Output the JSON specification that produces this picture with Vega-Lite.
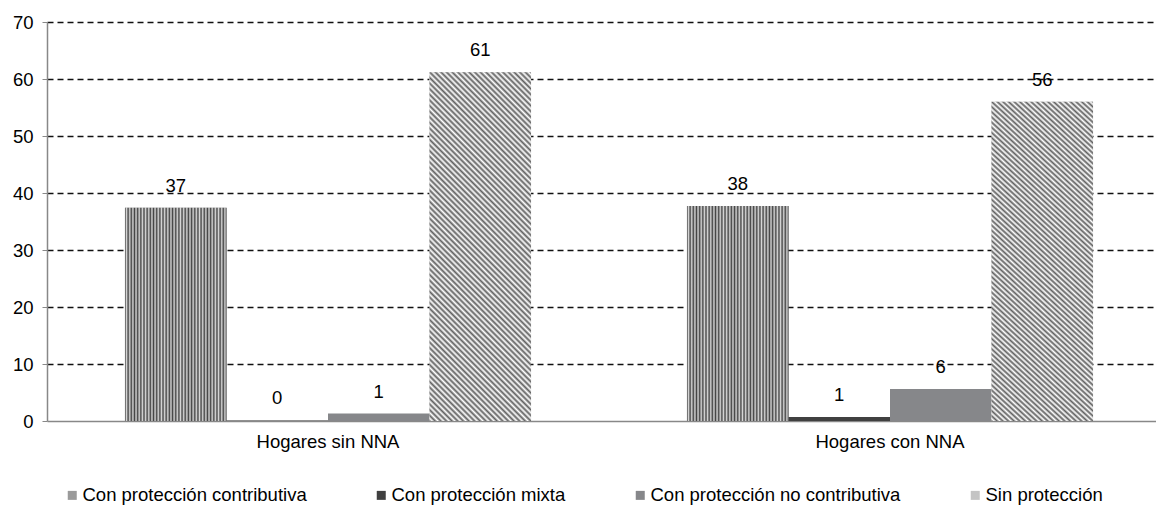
{
  "$schema": "https://vega.github.io/schema/vega-lite/v6.json",
  "width": 1109,
  "height": 399,
  "autosize": "none",
  "padding": {"left": 47, "top": 22, "right": 0, "bottom": 87},
  "background": "white",
  "config": {
    "font": "Liberation Sans",
    "view": {"stroke": null},
    "axis": {"labelFont": "Liberation Sans", "labelColor": "#000000"},
    "legend": {"labelFont": "Liberation Sans"}
  },
  "data": {
    "values": [
      {"grupo": "Hogares sin NNA", "serie": "Con protección contributiva", "valor": 37.4},
      {"grupo": "Hogares sin NNA", "serie": "Con protección mixta", "valor": 0.1},
      {"grupo": "Hogares sin NNA", "serie": "Con protección no contributiva", "valor": 1.3},
      {"grupo": "Hogares sin NNA", "serie": "Sin protección", "valor": 61.2},
      {"grupo": "Hogares con NNA", "serie": "Con protección contributiva", "valor": 37.7},
      {"grupo": "Hogares con NNA", "serie": "Con protección mixta", "valor": 0.7},
      {"grupo": "Hogares con NNA", "serie": "Con protección no contributiva", "valor": 5.6},
      {"grupo": "Hogares con NNA", "serie": "Sin protección", "valor": 56.0}
    ]
  },
  "encoding": {
    "x": {
      "field": "grupo",
      "type": "nominal",
      "sort": ["Hogares sin NNA", "Hogares con NNA"],
      "scale": {"paddingInner": 0, "paddingOuter": 0, "range": [0, 1124]},
      "axis": {
        "title": null,
        "labelAngle": 0,
        "labelFontSize": 18.5,
        "ticks": false,
        "labelPadding": 11,
        "domainColor": "#888888",
        "domainWidth": 1.5
      }
    },
    "xOffset": {
      "field": "serie",
      "type": "nominal",
      "scale": {
        "domain": ["Con protección contributiva", "Con protección mixta", "Con protección no contributiva", "Sin protección"],
        "paddingInner": 0,
        "paddingOuter": 0.768
      }
    },
    "y": {
      "field": "valor",
      "type": "quantitative",
      "scale": {"domain": [0, 70], "nice": false},
      "axis": {
        "title": null,
        "values": [0, 10, 20, 30, 40, 50, 60, 70],
        "grid": true,
        "gridDash": [6, 4],
        "gridWidth": 1.3,
        "gridColor": {"condition": {"test": "datum.value === 0", "value": "transparent"}, "value": "#111111"},
        "domainColor": "#888888",
        "domainWidth": 1.5,
        "tickColor": "#888888",
        "tickSize": 5,
        "labelFontSize": 18.5,
        "labelPadding": 9
      }
    }
  },
  "layer": [
    {
      "mark": {"type": "bar", "strokeWidth": 0},
      "encoding": {
        "color": {
          "field": "serie",
          "type": "nominal",
          "scale": {
            "domain": ["Con protección contributiva", "Con protección mixta", "Con protección no contributiva", "Sin protección"],
            "range": ["#9a9a9a", "#404040", "#86878a", "#c4c4c4"]
          },
          "legend": {
            "title": null,
            "orient": "none",
            "legendX": 16,
            "legendY": 464,
            "direction": "horizontal",
            "columns": 4,
            "columnPadding": 65,
            "symbolType": "square",
            "symbolSize": 81,
            "symbolStrokeWidth": 0,
            "symbolOffset": 0,
            "labelOffset": 1,
            "labelFontSize": 18.5,
            "labelColor": "#000000",
            "labelLimit": 400
          }
        }
      }
    },
    {
      "transform": [{"filter": "datum.serie === 'Con protección contributiva'"}],
      "mark": {
        "type": "bar",
        "strokeWidth": 0,
        "fill": {
          "gradient": "linear",
          "x1": 0, "y1": 0, "x2": 1, "y2": 0,
          "stops": [
            {"offset": 0, "color": "#444444"},
            {"offset": 0.015625, "color": "#d8d8d8"},
            {"offset": 0.03125, "color": "#444444"},
            {"offset": 0.046875, "color": "#d8d8d8"},
            {"offset": 0.0625, "color": "#444444"},
            {"offset": 0.078125, "color": "#d8d8d8"},
            {"offset": 0.09375, "color": "#444444"},
            {"offset": 0.109375, "color": "#d8d8d8"},
            {"offset": 0.125, "color": "#444444"},
            {"offset": 0.140625, "color": "#d8d8d8"},
            {"offset": 0.15625, "color": "#444444"},
            {"offset": 0.171875, "color": "#d8d8d8"},
            {"offset": 0.1875, "color": "#444444"},
            {"offset": 0.203125, "color": "#d8d8d8"},
            {"offset": 0.21875, "color": "#444444"},
            {"offset": 0.234375, "color": "#d8d8d8"},
            {"offset": 0.25, "color": "#444444"},
            {"offset": 0.265625, "color": "#d8d8d8"},
            {"offset": 0.28125, "color": "#444444"},
            {"offset": 0.296875, "color": "#d8d8d8"},
            {"offset": 0.3125, "color": "#444444"},
            {"offset": 0.328125, "color": "#d8d8d8"},
            {"offset": 0.34375, "color": "#444444"},
            {"offset": 0.359375, "color": "#d8d8d8"},
            {"offset": 0.375, "color": "#444444"},
            {"offset": 0.390625, "color": "#d8d8d8"},
            {"offset": 0.40625, "color": "#444444"},
            {"offset": 0.421875, "color": "#d8d8d8"},
            {"offset": 0.4375, "color": "#444444"},
            {"offset": 0.453125, "color": "#d8d8d8"},
            {"offset": 0.46875, "color": "#444444"},
            {"offset": 0.484375, "color": "#d8d8d8"},
            {"offset": 0.5, "color": "#444444"},
            {"offset": 0.515625, "color": "#d8d8d8"},
            {"offset": 0.53125, "color": "#444444"},
            {"offset": 0.546875, "color": "#d8d8d8"},
            {"offset": 0.5625, "color": "#444444"},
            {"offset": 0.578125, "color": "#d8d8d8"},
            {"offset": 0.59375, "color": "#444444"},
            {"offset": 0.609375, "color": "#d8d8d8"},
            {"offset": 0.625, "color": "#444444"},
            {"offset": 0.640625, "color": "#d8d8d8"},
            {"offset": 0.65625, "color": "#444444"},
            {"offset": 0.671875, "color": "#d8d8d8"},
            {"offset": 0.6875, "color": "#444444"},
            {"offset": 0.703125, "color": "#d8d8d8"},
            {"offset": 0.71875, "color": "#444444"},
            {"offset": 0.734375, "color": "#d8d8d8"},
            {"offset": 0.75, "color": "#444444"},
            {"offset": 0.765625, "color": "#d8d8d8"},
            {"offset": 0.78125, "color": "#444444"},
            {"offset": 0.796875, "color": "#d8d8d8"},
            {"offset": 0.8125, "color": "#444444"},
            {"offset": 0.828125, "color": "#d8d8d8"},
            {"offset": 0.84375, "color": "#444444"},
            {"offset": 0.859375, "color": "#d8d8d8"},
            {"offset": 0.875, "color": "#444444"},
            {"offset": 0.890625, "color": "#d8d8d8"},
            {"offset": 0.90625, "color": "#444444"},
            {"offset": 0.921875, "color": "#d8d8d8"},
            {"offset": 0.9375, "color": "#444444"},
            {"offset": 0.953125, "color": "#d8d8d8"},
            {"offset": 0.96875, "color": "#444444"},
            {"offset": 0.984375, "color": "#d8d8d8"},
            {"offset": 1, "color": "#444444"}
          ]
        }
      }
    },
    {
      "transform": [{"filter": "datum.serie === 'Sin protección'"}],
      "mark": {
        "type": "bar",
        "strokeWidth": 0,
        "fill": {
          "gradient": "linear",
          "x1": 0, "y1": 1, "x2": 0.3467, "y2": -0.1903,
          "stops": [
            {"offset": 0, "color": "#606060"},
            {"offset": 0.00625, "color": "#ffffff"},
            {"offset": 0.0125, "color": "#606060"},
            {"offset": 0.01875, "color": "#ffffff"},
            {"offset": 0.025, "color": "#606060"},
            {"offset": 0.03125, "color": "#ffffff"},
            {"offset": 0.0375, "color": "#606060"},
            {"offset": 0.04375, "color": "#ffffff"},
            {"offset": 0.05, "color": "#606060"},
            {"offset": 0.05625, "color": "#ffffff"},
            {"offset": 0.0625, "color": "#606060"},
            {"offset": 0.06875, "color": "#ffffff"},
            {"offset": 0.075, "color": "#606060"},
            {"offset": 0.08125, "color": "#ffffff"},
            {"offset": 0.0875, "color": "#606060"},
            {"offset": 0.09375, "color": "#ffffff"},
            {"offset": 0.1, "color": "#606060"},
            {"offset": 0.10625, "color": "#ffffff"},
            {"offset": 0.1125, "color": "#606060"},
            {"offset": 0.11875, "color": "#ffffff"},
            {"offset": 0.125, "color": "#606060"},
            {"offset": 0.13125, "color": "#ffffff"},
            {"offset": 0.1375, "color": "#606060"},
            {"offset": 0.14375, "color": "#ffffff"},
            {"offset": 0.15, "color": "#606060"},
            {"offset": 0.15625, "color": "#ffffff"},
            {"offset": 0.1625, "color": "#606060"},
            {"offset": 0.16875, "color": "#ffffff"},
            {"offset": 0.175, "color": "#606060"},
            {"offset": 0.18125, "color": "#ffffff"},
            {"offset": 0.1875, "color": "#606060"},
            {"offset": 0.19375, "color": "#ffffff"},
            {"offset": 0.2, "color": "#606060"},
            {"offset": 0.20625, "color": "#ffffff"},
            {"offset": 0.2125, "color": "#606060"},
            {"offset": 0.21875, "color": "#ffffff"},
            {"offset": 0.225, "color": "#606060"},
            {"offset": 0.23125, "color": "#ffffff"},
            {"offset": 0.2375, "color": "#606060"},
            {"offset": 0.24375, "color": "#ffffff"},
            {"offset": 0.25, "color": "#606060"},
            {"offset": 0.25625, "color": "#ffffff"},
            {"offset": 0.2625, "color": "#606060"},
            {"offset": 0.26875, "color": "#ffffff"},
            {"offset": 0.275, "color": "#606060"},
            {"offset": 0.28125, "color": "#ffffff"},
            {"offset": 0.2875, "color": "#606060"},
            {"offset": 0.29375, "color": "#ffffff"},
            {"offset": 0.3, "color": "#606060"},
            {"offset": 0.30625, "color": "#ffffff"},
            {"offset": 0.3125, "color": "#606060"},
            {"offset": 0.31875, "color": "#ffffff"},
            {"offset": 0.325, "color": "#606060"},
            {"offset": 0.33125, "color": "#ffffff"},
            {"offset": 0.3375, "color": "#606060"},
            {"offset": 0.34375, "color": "#ffffff"},
            {"offset": 0.35, "color": "#606060"},
            {"offset": 0.35625, "color": "#ffffff"},
            {"offset": 0.3625, "color": "#606060"},
            {"offset": 0.36875, "color": "#ffffff"},
            {"offset": 0.375, "color": "#606060"},
            {"offset": 0.38125, "color": "#ffffff"},
            {"offset": 0.3875, "color": "#606060"},
            {"offset": 0.39375, "color": "#ffffff"},
            {"offset": 0.4, "color": "#606060"},
            {"offset": 0.40625, "color": "#ffffff"},
            {"offset": 0.4125, "color": "#606060"},
            {"offset": 0.41875, "color": "#ffffff"},
            {"offset": 0.425, "color": "#606060"},
            {"offset": 0.43125, "color": "#ffffff"},
            {"offset": 0.4375, "color": "#606060"},
            {"offset": 0.44375, "color": "#ffffff"},
            {"offset": 0.45, "color": "#606060"},
            {"offset": 0.45625, "color": "#ffffff"},
            {"offset": 0.4625, "color": "#606060"},
            {"offset": 0.46875, "color": "#ffffff"},
            {"offset": 0.475, "color": "#606060"},
            {"offset": 0.48125, "color": "#ffffff"},
            {"offset": 0.4875, "color": "#606060"},
            {"offset": 0.49375, "color": "#ffffff"},
            {"offset": 0.5, "color": "#606060"},
            {"offset": 0.50625, "color": "#ffffff"},
            {"offset": 0.5125, "color": "#606060"},
            {"offset": 0.51875, "color": "#ffffff"},
            {"offset": 0.525, "color": "#606060"},
            {"offset": 0.53125, "color": "#ffffff"},
            {"offset": 0.5375, "color": "#606060"},
            {"offset": 0.54375, "color": "#ffffff"},
            {"offset": 0.55, "color": "#606060"},
            {"offset": 0.55625, "color": "#ffffff"},
            {"offset": 0.5625, "color": "#606060"},
            {"offset": 0.56875, "color": "#ffffff"},
            {"offset": 0.575, "color": "#606060"},
            {"offset": 0.58125, "color": "#ffffff"},
            {"offset": 0.5875, "color": "#606060"},
            {"offset": 0.59375, "color": "#ffffff"},
            {"offset": 0.6, "color": "#606060"},
            {"offset": 0.60625, "color": "#ffffff"},
            {"offset": 0.6125, "color": "#606060"},
            {"offset": 0.61875, "color": "#ffffff"},
            {"offset": 0.625, "color": "#606060"},
            {"offset": 0.63125, "color": "#ffffff"},
            {"offset": 0.6375, "color": "#606060"},
            {"offset": 0.64375, "color": "#ffffff"},
            {"offset": 0.65, "color": "#606060"},
            {"offset": 0.65625, "color": "#ffffff"},
            {"offset": 0.6625, "color": "#606060"},
            {"offset": 0.66875, "color": "#ffffff"},
            {"offset": 0.675, "color": "#606060"},
            {"offset": 0.68125, "color": "#ffffff"},
            {"offset": 0.6875, "color": "#606060"},
            {"offset": 0.69375, "color": "#ffffff"},
            {"offset": 0.7, "color": "#606060"},
            {"offset": 0.70625, "color": "#ffffff"},
            {"offset": 0.7125, "color": "#606060"},
            {"offset": 0.71875, "color": "#ffffff"},
            {"offset": 0.725, "color": "#606060"},
            {"offset": 0.73125, "color": "#ffffff"},
            {"offset": 0.7375, "color": "#606060"},
            {"offset": 0.74375, "color": "#ffffff"},
            {"offset": 0.75, "color": "#606060"},
            {"offset": 0.75625, "color": "#ffffff"},
            {"offset": 0.7625, "color": "#606060"},
            {"offset": 0.76875, "color": "#ffffff"},
            {"offset": 0.775, "color": "#606060"},
            {"offset": 0.78125, "color": "#ffffff"},
            {"offset": 0.7875, "color": "#606060"},
            {"offset": 0.79375, "color": "#ffffff"},
            {"offset": 0.8, "color": "#606060"},
            {"offset": 0.80625, "color": "#ffffff"},
            {"offset": 0.8125, "color": "#606060"},
            {"offset": 0.81875, "color": "#ffffff"},
            {"offset": 0.825, "color": "#606060"},
            {"offset": 0.83125, "color": "#ffffff"},
            {"offset": 0.8375, "color": "#606060"},
            {"offset": 0.84375, "color": "#ffffff"},
            {"offset": 0.85, "color": "#606060"},
            {"offset": 0.85625, "color": "#ffffff"},
            {"offset": 0.8625, "color": "#606060"},
            {"offset": 0.86875, "color": "#ffffff"},
            {"offset": 0.875, "color": "#606060"},
            {"offset": 0.88125, "color": "#ffffff"},
            {"offset": 0.8875, "color": "#606060"},
            {"offset": 0.89375, "color": "#ffffff"},
            {"offset": 0.9, "color": "#606060"},
            {"offset": 0.90625, "color": "#ffffff"},
            {"offset": 0.9125, "color": "#606060"},
            {"offset": 0.91875, "color": "#ffffff"},
            {"offset": 0.925, "color": "#606060"},
            {"offset": 0.93125, "color": "#ffffff"},
            {"offset": 0.9375, "color": "#606060"},
            {"offset": 0.94375, "color": "#ffffff"},
            {"offset": 0.95, "color": "#606060"},
            {"offset": 0.95625, "color": "#ffffff"},
            {"offset": 0.9625, "color": "#606060"},
            {"offset": 0.96875, "color": "#ffffff"},
            {"offset": 0.975, "color": "#606060"},
            {"offset": 0.98125, "color": "#ffffff"},
            {"offset": 0.9875, "color": "#606060"},
            {"offset": 0.99375, "color": "#ffffff"},
            {"offset": 1, "color": "#606060"}
          ]
        }
      }
    },
    {
      "mark": {"type": "text", "baseline": "middle", "dy": -22, "fontSize": 18.5, "color": "#000000", "font": "Liberation Sans"},
      "encoding": {
        "text": {"field": "valor", "type": "quantitative", "format": ".0f"}
      }
    }
  ]
}
